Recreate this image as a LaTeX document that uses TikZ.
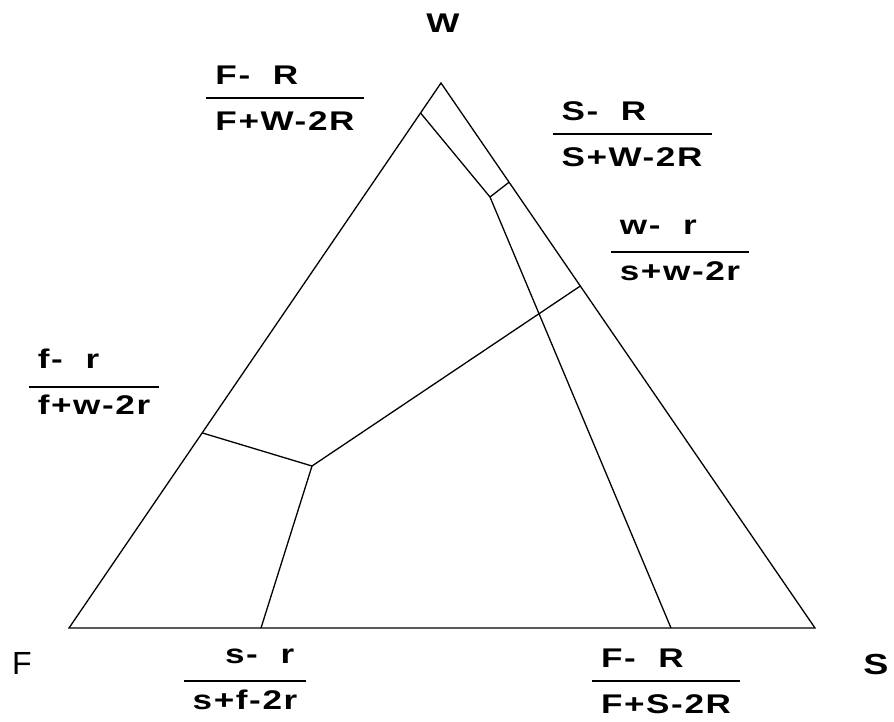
\documentclass[tikz,border=0pt]{standalone}
\usepackage{fontspec}
\setmainfont[FakeStretch=1.3,LetterSpace=6]{Liberation Sans}
\newfontfamily\plainfont{Liberation Sans}
\usetikzlibrary{calc}
\setlength{\arrayrulewidth}{2pt}
\newcommand{\fr}[4][l]{\begin{tabular}{@{\hspace{9pt}}#1@{\hspace{9pt}}}\raisebox{#4}{#2}\rule[-13pt]{0pt}{13pt}\\\hline\rule{0pt}{31pt}\raisebox{#4}{#3}\end{tabular}}

\begin{document}
\begin{tikzpicture}[x=1pt,y=-1pt,
  lbl/.style={inner sep=0pt,font=\fontsize{27}{32}\selectfont\bfseries},
  ln/.style={line width=1.3pt}]
\useasboundingbox (0,0) rectangle (894,721);
% corners
\coordinate (F) at (69,628);
\coordinate (S) at (815,628);
\coordinate (W) at (441,83);
% points on the sides
\coordinate (fwTop) at ($(F)!0.945!(W)$);
\coordinate (swTop) at ($(S)!0.818!(W)$);
\coordinate (fwLow) at ($(F)!0.358!(W)$);
\coordinate (swMid) at ($(S)!0.6275!(W)$);
\coordinate (fsR) at (671,628);
\coordinate (fsL) at (261,628);
% inner points
\coordinate (top) at (490,197);
\coordinate (mid) at (312,466);
% labels
\node[lbl] (lW) at (443,23) {W};
\node[lbl,font=\fontsize{32}{38}\selectfont\plainfont] (lF) at (22,663) {F};
\node[lbl,font=\fontsize{29}{34}\selectfont\bfseries] (lS) at (876,665) {S};
\node[lbl] (qFW) at (285,100.6) {\fr{F-\ \ R}{F+W-2R}{0pt}};
\node[lbl] (qSW) at (632,136.6) {\fr{S-\ \ R}{S+W-2R}{0pt}};
\node[lbl] (qsw) at (680,254.6) {\fr{w-\ \ r}{s+w-2r}{4pt}};
\node[lbl] (qfw) at (94,388.6) {\fr{f-\ \ r}{f+w-2r}{4pt}};
\node[lbl] (qsf) at (245,683.6) {\fr[r]{s-\ \ r\hspace{3pt}}{s+f-2r}{4pt}};
\node[lbl] (qFS) at (666,683.6) {\fr{F-\ \ R}{F+S-2R}{0pt}};
% lines
\draw[ln] (F) -- (S) -- (W) -- cycle;
\draw[ln] (fwTop) -- (top);
\draw[ln] (top) -- (swTop);
\draw[ln] (top) -- (fsR);
\draw[ln] (fwLow) -- (mid);
\draw[ln] (mid) -- (swMid);
\draw[ln] (mid) -- (fsL);
\end{tikzpicture}
\end{document}
